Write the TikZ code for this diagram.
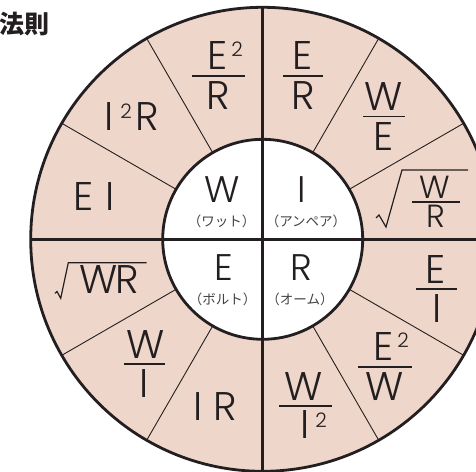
\documentclass[tikz,border=0pt]{standalone}
\usepackage{fontspec}
\usetikzlibrary{calc}
\IfFontExistsTF{Poppins Light}{\newfontfamily\lt{Poppins Light}}{%
  \IfFontExistsTF{Lato Light}{\newfontfamily\lt{Lato Light}}{\newfontfamily\lt{Liberation Sans}}}
\newfontfamily\jp{Noto Sans CJK JP}
\definecolor{pinkfill}{RGB}{239,214,203}
\definecolor{ink}{RGB}{35,31,32}
\tikzset{
  thickline/.style={draw=ink, line width=2.8pt},
  spoke/.style={draw=ink, line width=0.9pt},
  fbar/.style={draw=ink, line width=1.2pt},
  radical/.style={draw=ink, line width=1.2pt, line join=miter},
  big/.style={font=\lt\fontsize{40}{40}\selectfont, inner sep=0pt, anchor=base, text=ink},
  mid/.style={font=\lt\fontsize{37}{37}\selectfont, inner sep=0pt, anchor=base, text=ink},
  sml/.style={font=\lt\fontsize{32}{32}\selectfont, inner sep=0pt, anchor=base, text=ink},
  sup/.style={font=\lt\fontsize{20}{20}\selectfont, inner sep=0pt, anchor=base, text=ink},
  jpn/.style={font=\jp\fontsize{13.5}{13.5}\selectfont, inner sep=0pt, anchor=center, text=ink!85},
  ttl/.style={font=\jp\bfseries\fontsize{25}{25}\selectfont, inner sep=0pt, anchor=base east, text=ink},
}
\begin{document}
\begin{tikzpicture}[x=1pt,y=-1pt]
\useasboundingbox (0,0) rectangle (476,471);
\clip (0,0) rectangle (476,471);
\coordinate (O) at (262.7,239.3);
% discs
\fill[pinkfill] (O) circle[radius=232pt];
\fill[white] (O) circle[radius=100pt];
% thin spokes
\foreach \a in {30,60,120,150,210,240,300,330}
  \draw[spoke] ($(O)+(\a:100)$) -- ($(O)+(\a:232)$);
% thick cross
\draw[thickline] ($(O)+(-232,0)$) -- ($(O)+(232,0)$);
\draw[thickline] ($(O)+(0,-232)$) -- ($(O)+(0,232)$);
% circle outlines
\draw[thickline] (O) circle[radius=232pt];
\draw[thickline] (O) circle[radius=100pt];

% title
\node[ttl] (title) at (50,33) {法則};

% inner quadrants
\node[mid] (iw) at (222,202) {W};
\node[jpn] (iwj) at (221.5,221.5) {（ワット）};
\node[mid] (ii) at (302,202) {I};
\node[jpn] (iij) at (306,221.5) {（アンペア）};
\node[mid] (ie) at (223.5,280) {E};
\node[jpn] (iej) at (222.5,299) {（ボルト）};
\node[mid] (ir) at (301,280) {R};
\node[jpn] (irj) at (300,299) {（オーム）};

% E^2/R
\node[big] (a1) at (217.5,69) {E};
\node[sup] (a1s) at (237,56) {2};
\draw[fbar] (192,76) -- (245,76);
\node[big] (a1d) at (218.5,109) {R};
% E/R
\node[big] (a2) at (302.5,69) {E};
\draw[fbar] (283,76) -- (323,76);
\node[big] (a2d) at (303,109) {R};
% W/E
\node[big] (a3) at (384,110) {W};
\draw[fbar] (363,116.7) -- (405,116.7);
\node[big] (a3d) at (384,150) {E};
% sqrt(W/R)
\draw[radical] (376,218) -- (379,215) -- (386,227) -- (402,170) -- (468,170);
\node[sml] (a4) at (435,198) {W};
\draw[fbar] (412,202) -- (460,202);
\node[sml] (a4d) at (436,227) {R};
% E/I
\node[big] (a5) at (436,283) {E};
\draw[fbar] (416,289) -- (457,289);
\node[big] (a5d) at (437,322) {I};
% E^2/W
\node[big] (a6) at (384,360) {E};
\node[sup] (a6s) at (403,347) {2};
\draw[fbar] (358,367) -- (412,367);
\node[big] (a6d) at (385,400) {W};
% W/I^2
\node[big] (a7) at (304,400) {W};
\draw[fbar] (279,406) -- (332,406);
\node[big] (a7d) at (305,438) {I};
\node[sup] (a7s) at (321,427) {2};
% IR
\node[big] (a8i) at (198,420) {I};
\node[big] (a8r) at (225.5,420) {R};
% W/I
\node[big] (a9) at (146,358) {W};
\draw[fbar] (124,364) -- (165,364);
\node[big] (a9d) at (144,397) {I};
% sqrt(WR)
\draw[radical] (55,293.3) -- (57,291.5) -- (60.7,298.3) -- (68.3,262.7) -- (146.7,262.7);
\node[big] (a10w) at (98.5,293) {W};
\node[big] (a10r) at (127,293) {R};
% EI
\node[big] (a11e) at (84,210) {E};
\node[big] (a11i) at (110,210) {I};
% I^2R
\node[big] (a12i) at (109,130) {I};
\node[sup] (a12s) at (126,118) {2};
\node[big] (a12r) at (147.5,130) {R};
\end{tikzpicture}
\end{document}
